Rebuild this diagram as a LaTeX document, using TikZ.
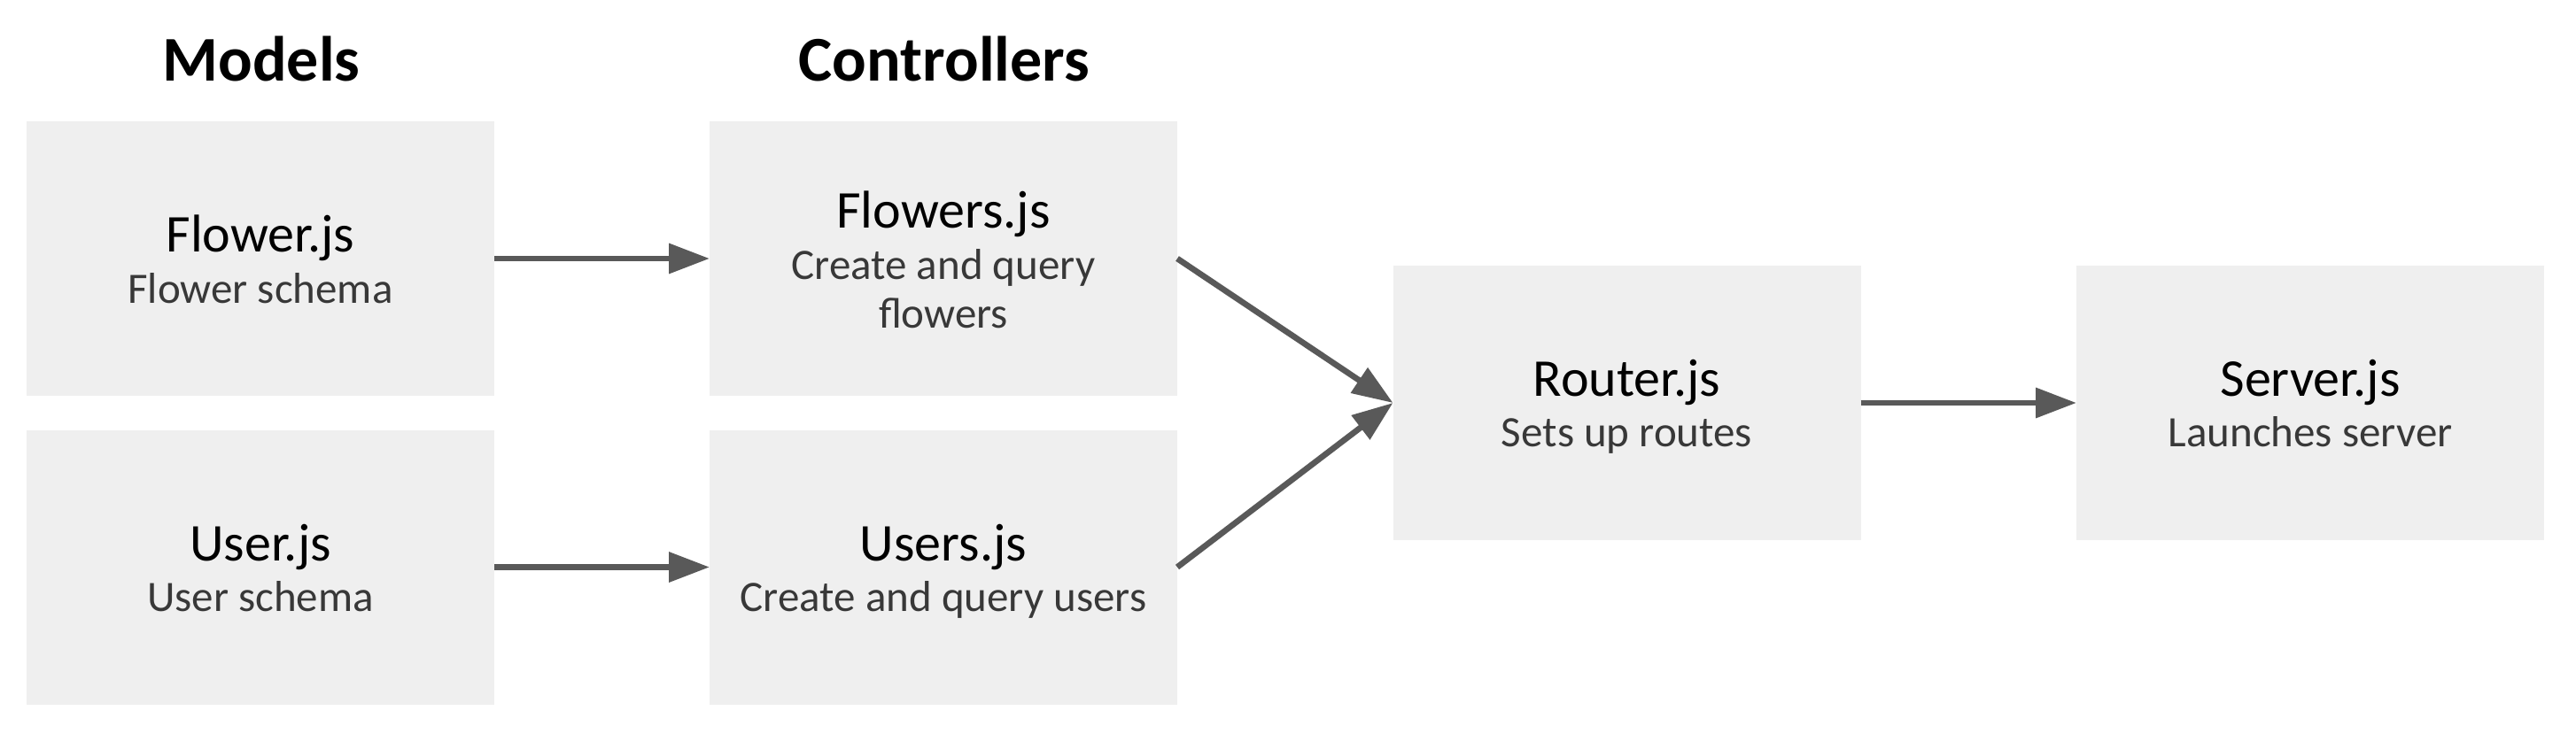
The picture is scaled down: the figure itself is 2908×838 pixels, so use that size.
\documentclass[tikz,border=0pt]{standalone}
\usepackage{fontspec}
\setmainfont{Carlito}
\usetikzlibrary{arrows.meta}
\definecolor{boxfill}{HTML}{EFEFEF}
\definecolor{arrowcol}{HTML}{595959}
\begin{document}
\begin{tikzpicture}[x=1pt,y=-1pt,
  box/.style={fill=boxfill, draw=none, minimum width=528pt, minimum height=310pt, inner sep=0pt, outer sep=0pt},
  head/.style={font=\fontsize{72}{78}\selectfont\bfseries, anchor=base, inner sep=0pt},
  ttl/.style={font=\fontsize{60}{66}\selectfont, anchor=base, inner sep=0pt},
  sub/.style={font=\fontsize{49}{55}\selectfont, anchor=base, inner sep=0pt, text=black!78},
  conn/.style={draw=arrowcol, line width=6.7pt, -{Triangle[length=46pt,width=33pt]}}
]
\useasboundingbox[fill=white] (0,0) rectangle (2908,838);
\node[box] (flower)  at (294,292) {};
\node[box] (flowers) at (1065,292) {};
\node[box] (user)    at (294,640.5) {};
\node[box] (users)   at (1065,640.5) {};
\node[box] (router)  at (1836.5,455) {};
\node[box] (server)  at (2608,455) {};

\node[head] (hmodels) at (295,91) {Models};
\node[head] (hctrl)   at (1066,91) {Controllers};

\node[ttl] (flowerT) at (294,284) {Flower.js};
\node[sub] (flowerS) at (294,342) {Flower schema};
\node[ttl] (flowersT) at (1065,257) {Flowers.js};
\node[sub] (flowersS1) at (1065,315) {Create and query};
\node[sub] (flowersS2) at (1065,370) {flowers};
\node[ttl] (userT) at (294,633) {User.js};
\node[sub] (userS) at (294,690) {User schema};
\node[ttl] (usersT) at (1065,633) {Users.js};
\node[sub] (usersS) at (1065,690) {Create and query users};
\node[ttl] (routerT) at (1836.5,447) {Router.js};
\node[sub] (routerS) at (1836.5,504) {Sets up routes};
\node[ttl] (serverT) at (2608,447) {Server.js};
\node[sub] (serverS) at (2608,504) {Launches server};

\draw[conn] (flower.east) -- (flowers.west);
\draw[conn] (user.east) -- (users.west);
\draw[conn] (flowers.east) -- (router.west);
\draw[conn] (users.east) -- (router.west);
\draw[conn] (router.east) -- (server.west);
\end{tikzpicture}
\end{document}
